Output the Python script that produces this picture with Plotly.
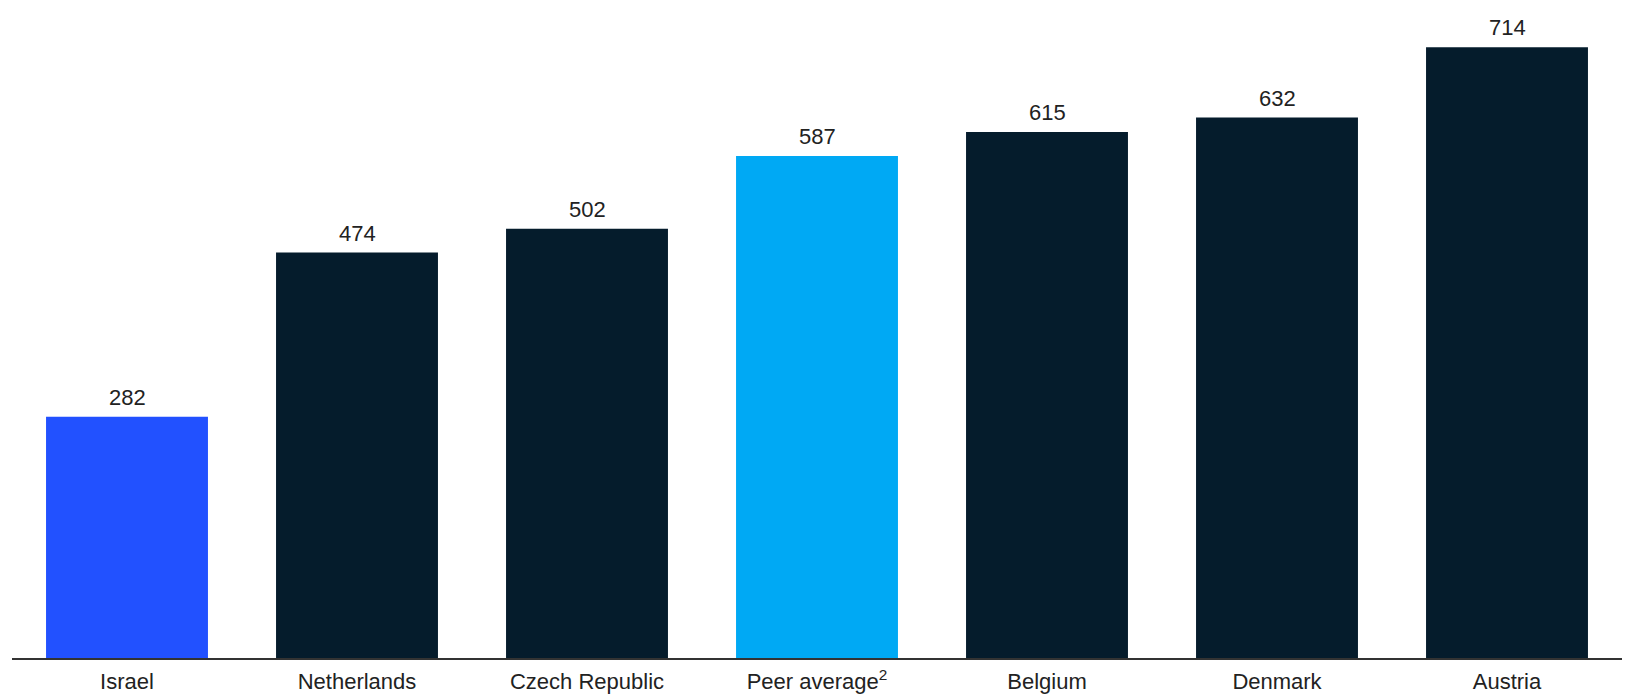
import plotly.graph_objects as go

countries = ["Israel", "Netherlands", "Czech Republic", "Peer average<sup>2</sup>",
             "Belgium", "Denmark", "Austria"]
values = [282, 474, 502, 587, 615, 632, 714]
bar_colors = ["#2251FF", "#051C2C", "#051C2C", "#00A9F4", "#051C2C", "#051C2C", "#051C2C"]

FONT = "Liberation Sans, Arial, sans-serif"

fig = go.Figure(
    go.Bar(
        x=countries,
        y=values,
        marker=dict(color=bar_colors, line=dict(width=0)),
        hoverinfo="skip",
    )
)

# value labels above each bar
for c, v in zip(countries, values):
    fig.add_annotation(
        x=c, y=v, text=str(v), showarrow=False,
        yanchor="bottom", yshift=5,
        font=dict(family=FONT, size=22, color="#222222"),
    )

fig.update_layout(
    width=1628, height=694,
    margin=dict(l=12, r=6, t=20, b=36),
    paper_bgcolor="white", plot_bgcolor="white",
    bargap=0.296,
    showlegend=False,
    font=dict(family=FONT, size=22, color="#222222"),
)
fig.update_xaxes(
    showline=True, linecolor="#333333", linewidth=1.5,
    ticks="outside", ticklen=3, tickcolor="white",
    tickfont=dict(family=FONT, size=22, color="#222222"),
    showgrid=False, zeroline=False, automargin=False,
)
fig.update_yaxes(
    range=[0, 746], visible=False, showgrid=False, zeroline=False,
    automargin=False,
)

fig.write_html("out.html")
